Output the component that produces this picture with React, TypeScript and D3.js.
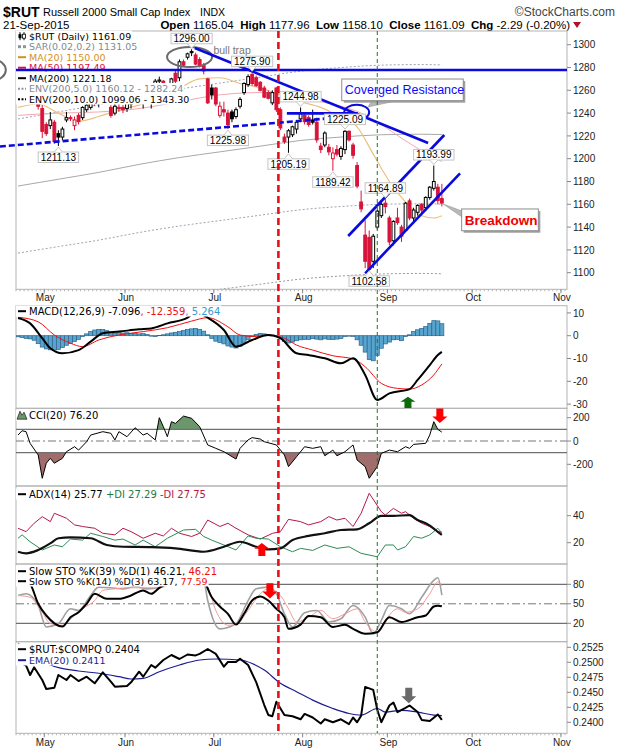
'use client'
import React, { useEffect, useRef } from 'react';
import * as d3 from 'd3';

// trading days shown (Apr 22 - Sep 21, 2015)
const dates = [
  'Apr 22', 'Apr 23', 'Apr 24', 'Apr 27', 'Apr 28', 'Apr 29', 'Apr 30',
  'May 1', 'May 4', 'May 5', 'May 6', 'May 7', 'May 8', 'May 11', 'May 12', 'May 13', 'May 14', 'May 15',
  'May 18', 'May 19', 'May 20', 'May 21', 'May 22', 'May 26', 'May 27', 'May 28', 'May 29',
  'Jun 1', 'Jun 2', 'Jun 3', 'Jun 4', 'Jun 5', 'Jun 8', 'Jun 9', 'Jun 10', 'Jun 11', 'Jun 12',
  'Jun 15', 'Jun 16', 'Jun 17', 'Jun 18', 'Jun 19', 'Jun 22', 'Jun 23', 'Jun 24', 'Jun 25', 'Jun 26', 'Jun 29', 'Jun 30',
  'Jul 1', 'Jul 2', 'Jul 6', 'Jul 7', 'Jul 8', 'Jul 9', 'Jul 10', 'Jul 13', 'Jul 14', 'Jul 15', 'Jul 16', 'Jul 17',
  'Jul 20', 'Jul 21', 'Jul 22', 'Jul 23', 'Jul 24', 'Jul 27', 'Jul 28', 'Jul 29', 'Jul 30', 'Jul 31',
  'Aug 3', 'Aug 4', 'Aug 5', 'Aug 6', 'Aug 7', 'Aug 10', 'Aug 11', 'Aug 12', 'Aug 13', 'Aug 14',
  'Aug 17', 'Aug 18', 'Aug 19', 'Aug 20', 'Aug 21', 'Aug 24', 'Aug 25', 'Aug 26', 'Aug 27', 'Aug 28', 'Aug 31',
  'Sep 1', 'Sep 2', 'Sep 3', 'Sep 4', 'Sep 8', 'Sep 9', 'Sep 10', 'Sep 11', 'Sep 14', 'Sep 15', 'Sep 16', 'Sep 17', 'Sep 18', 'Sep 21',
];

const open = [
  1262, 1265, 1273, 1268, 1255, 1260, 1244, 1230, 1229, 1232, 1222, 1219, 1234, 1236, 1229, 1238, 1236, 1243, 1245, 1251,
  1249, 1250, 1254, 1245, 1240, 1245, 1245, 1244, 1248, 1254, 1260, 1250, 1259, 1255, 1262, 1268, 1268, 1264, 1258, 1275,
  1271, 1285, 1289, 1294, 1291, 1287, 1282, 1270, 1262, 1262, 1238, 1243, 1240, 1241, 1237, 1246, 1258, 1265, 1274, 1271,
  1267, 1262, 1258, 1249, 1262, 1243, 1219, 1219, 1221, 1226, 1235, 1238, 1236, 1234, 1232, 1211, 1212, 1210, 1200, 1208,
  1202, 1208, 1224, 1212, 1194, 1162, 1133, 1131, 1110, 1140, 1150, 1161, 1148, 1128, 1148, 1140, 1137, 1163, 1148, 1153,
  1160, 1157, 1166, 1174, 1175, 1165.04,
];
const high = [
  1268, 1276, 1275, 1270, 1266, 1262, 1247, 1232, 1241, 1234, 1225, 1228, 1241, 1238, 1237, 1240, 1246, 1248, 1251, 1254,
  1253, 1256, 1256, 1247, 1248, 1248, 1247, 1252, 1254, 1264, 1261, 1262, 1261, 1259, 1270, 1272, 1269, 1266, 1271, 1277,
  1287, 1287, 1293, 1296.0, 1293, 1289, 1284, 1271, 1265, 1263, 1250, 1250, 1243, 1243, 1245, 1254, 1267, 1274, 1275.9, 1273,
  1268, 1264, 1260, 1260, 1263, 1245, 1222, 1226, 1229, 1234, 1244.98, 1241, 1238, 1243, 1236, 1214, 1224, 1213, 1210, 1212,
  1211, 1225.09, 1225, 1214, 1197, 1172, 1146, 1137, 1134, 1155, 1162, 1164.89, 1150, 1146, 1157, 1142, 1162, 1165, 1157, 1160,
  1161, 1167, 1176, 1193.99, 1178, 1177.96,
];
const low = [
  1258, 1263, 1264, 1252, 1250, 1243, 1218, 1220, 1226, 1213, 1211.13, 1216, 1232, 1233, 1225, 1230, 1234, 1241, 1243, 1246,
  1245, 1248, 1250, 1236, 1238, 1241, 1240, 1241, 1244, 1252, 1248, 1244, 1254, 1244, 1260, 1265, 1263, 1256, 1256, 1266,
  1268, 1281, 1287, 1290, 1282, 1280, 1274, 1248, 1252, 1246, 1236, 1237, 1225.98, 1232, 1235, 1244, 1256, 1263, 1264, 1263,
  1259, 1253, 1252, 1247, 1241, 1225, 1213, 1205.19, 1219, 1222, 1232, 1230, 1228, 1230, 1214, 1205, 1210, 1203, 1189.42, 1202,
  1199, 1204, 1215, 1200, 1174, 1153, 1104, 1102.58, 1104, 1138, 1148, 1152, 1124, 1124, 1142, 1127, 1136, 1146, 1145, 1150,
  1152, 1154, 1164, 1172, 1160, 1158.1,
];
const close = [
  1266, 1273, 1268, 1255, 1263, 1246, 1224, 1222, 1234, 1215, 1219, 1226, 1236, 1235.5, 1234, 1232.5, 1245, 1247, 1250, 1249,
  1251, 1255, 1252, 1238, 1246, 1244, 1243, 1249, 1252, 1262, 1251, 1259, 1255, 1257, 1268, 1269, 1266, 1258, 1270, 1268,
  1285, 1282, 1292, 1293, 1283, 1281, 1277, 1249, 1256, 1248, 1246, 1241, 1230, 1235, 1243, 1252, 1266, 1272, 1266, 1264,
  1260, 1254, 1253, 1258, 1243, 1227, 1215, 1224.5, 1228, 1232, 1240, 1232.5, 1230, 1232, 1216.5, 1208, 1222.5, 1206, 1205, 1204,
  1209, 1224, 1216.5, 1203, 1176, 1156, 1110, 1103, 1132, 1154, 1160, 1158, 1127, 1145, 1144, 1132, 1161, 1148, 1155, 1159,
  1155, 1166, 1175, 1180, 1163.38, 1161.09,
];

// moving averages [day index, value]
const ma20 = [[0, 1245], [5, 1248], [10, 1240], [15, 1233], [20, 1237], [25, 1243], [30, 1247], [35, 1254], [40, 1262], [45, 1270],
  [50, 1271], [55, 1266], [60, 1262], [65, 1256], [70, 1250], [75, 1245], [80, 1236], [84, 1228], [88, 1204], [92, 1180],
  [96, 1162], [100, 1150], [103, 1148], [105, 1150]];
const ma50 = [[0, 1238], [10, 1240], [20, 1241], [30, 1244], [40, 1250], [50, 1256], [60, 1258], [65, 1257], [70, 1254],
  [75, 1250], [80, 1246], [85, 1240], [90, 1230], [95, 1218], [100, 1207], [105, 1197.49]];
const ma200 = [[0, 1176], [10, 1182], [20, 1188], [30, 1195], [40, 1201], [50, 1206], [60, 1211], [70, 1216], [80, 1219],
  [90, 1221], [100, 1221.5], [105, 1221.18]];

const macdLine = [[0, 7.8], [3, 5.4], [6, -1.1], [8, -5.5], [11, -7.7], [15, -6.3], [18, -2.6], [21, 1.1], [25, 1.8], [30, 2.8],
  [33, 3.2], [37, 5.4], [42, 7.9], [44, 10.5], [47, 7.9], [51, 2.5], [54, -4.8], [58, -1.9], [62, 0.3], [65, -1.1], [69, -7.7],
  [72, -8.5], [76, -9.9], [80, -12.1], [83, -9.9], [86, -17.2], [89, -28.2], [92, -25.3], [97, -23.4], [99, -19.4], [102, -12.9],
  [104, -8.5], [105, -7.096]];
const macdSignal = [[0, 8.1], [5, 6.1], [9, 0.3], [13, -3.3], [16, -4.8], [20, -1.9], [25, 0.3], [31, 1.8], [37, 3.5], [43, 6.4],
  [47, 7.9], [52, 3.9], [55, 0.3], [59, -0.4], [62, 0.3], [66, -1.1], [69, -4.1], [73, -6.3], [78, -8.8], [83, -10.2],
  [86, -13.6], [90, -20.9], [94, -23.1], [97, -23.4], [100, -21.6], [103, -17.2], [105, -12.359]];
const macdHist = [
  -0.5, -0.8, -1.2, -1.4, -2.0, -3.5, -5.0, -5.8, -6.2, -6.3,
  -6.0, -5.2, -4.2, -3.4, -2.6, -1.6, -0.4, 0.8, 1.8, 2.5,
  2.8, 2.7, 2.2, 1.4, 1.1, 1.4, 1.2, 1.3, 1.0, 0.9,
  0.8, 0.9, 0.5, -0.2, -0.4, 0.1, 0.4, 0.8, 1.2, 1.5,
  1.8, 2.3, 2.7, 3.0, 3.2, 2.8, 2.0, 0.4, -1.2, -2.4,
  -3.0, -3.6, -4.5, -5.0, -5.4, -4.6, -3.2, -1.6, -0.4, 0.6,
  1.0, 0.8, 0.4, 0.2, -0.3, -1.0, -2.5, -3.2, -2.8, -2.2,
  -1.8, -1.6, -1.6, -1.3, -1.5, -1.8, -1.4, -1.6, -1.7, -1.5,
  -1.2, -0.4, -0.2, -0.3, -1.8, -4.2, -7.2, -10.5, -11.0, -8.6,
  -5.5, -3.6, -2.8, -1.8, -1.6, -2.2, -0.4, 0.4, 1.8, 2.6,
  3.2, 4.0, 5.4, 6.6, 6.5, 5.264,
];

const cci = [[0, 51], [1, 88], [2, 80], [3, -20], [5, -120], [6, -320], [7, -191], [8, -149], [9, -191], [11, -149], [12, -92],
  [14, -49], [15, -78], [17, -6], [18, 51], [21, 80], [23, 66], [24, 9], [25, 80], [27, 37], [29, 114], [31, 51], [32, 66],
  [34, 9], [35, 200], [36, 123], [37, 37], [38, 166], [39, 151], [41, 214], [43, 195], [45, 123], [47, -34], [49, -63],
  [51, -92], [54, -155], [55, -63], [57, 9], [58, 29], [60, 17], [61, -6], [64, -34], [66, -120], [67, -220], [69, -135],
  [71, -49], [73, -63], [75, -49], [76, -127], [78, -78], [79, -127], [81, -92], [83, -34], [84, -163], [86, -220],
  [87, -320], [89, -220], [90, -106], [92, -78], [94, -92], [96, -49], [97, -63], [98, -29], [101, -20], [102, 51],
  [103, 166], [104, 100], [105, 76.2]];

const adx = [[0, 13.3], [2, 12.1], [5, 14.6], [8, 19.5], [10, 23.3], [13, 24], [18, 23.3], [22, 18.3], [26, 17], [33, 16.7],
  [39, 15.8], [46, 13.3], [51, 17], [55, 20.7], [59, 17], [62, 15.1], [65, 15.8], [68, 22], [72, 25], [76, 27], [80, 29.4],
  [84, 29.9], [87, 34.4], [90, 39.8], [93, 39.8], [97, 40.5], [99, 36.8], [101, 34.4], [103, 30.5], [104, 28], [105, 25.77]];
const plusDI = [[0, 23.3], [1, 25.8], [3, 20.7], [6, 14.6], [9, 18.3], [11, 17], [13, 22.7], [16, 21.9], [18, 27], [21, 24.6],
  [24, 21.9], [26, 22.7], [29, 18.3], [31, 21.9], [34, 17], [37, 23.3], [41, 29.4], [44, 29.9], [46, 24.6], [48, 21.9],
  [51, 18.3], [54, 14.6], [57, 25], [59, 23.3], [62, 22.7], [65, 17], [68, 13.3], [70, 15.8], [73, 14.3], [76, 18.3],
  [79, 15.8], [82, 17], [85, 12.1], [89, 9.6], [91, 18.3], [93, 18.3], [94, 14.6], [96, 17], [98, 24.6], [100, 23.3],
  [102, 25.8], [104, 30.7], [105, 27.29]];
const minusDI = [[0, 30.7], [2, 28.2], [4, 34.4], [6, 39.3], [8, 35.6], [9, 41.8], [12, 38.1], [14, 33.2], [16, 32], [19, 30.7],
  [21, 27], [24, 25.8], [26, 30.7], [28, 28.2], [31, 23.3], [34, 27], [36, 25], [38, 30.7], [40, 27], [43, 24.6], [45, 27],
  [47, 36.8], [50, 32], [52, 34.4], [54, 30.7], [57, 25.8], [60, 22.7], [63, 26.9], [65, 28.2], [67, 37.3], [70, 35.6],
  [72, 33.2], [75, 35.6], [77, 39.3], [79, 36.8], [81, 38.1], [83, 32], [85, 41.8], [87, 56.6], [90, 43], [91, 40.5],
  [93, 45.4], [95, 41.8], [96, 43], [98, 38.1], [100, 34.4], [102, 32], [104, 28.2], [105, 27.75]];

const stoK39 = [[0, 92], [3, 80.8], [5, 50], [7, 32], [11, 15], [13, 29.4], [15, 37], [17, 50], [19, 65.4], [22, 57.7], [25, 57.7],
  [28, 62.8], [31, 70.5], [33, 65.4], [35, 74.6], [38, 84], [41, 92], [44, 94], [46, 86], [48, 60], [50, 45.8], [52, 34.6],
  [54, 18], [56, 34.6], [58, 55], [60, 61.2], [62, 55], [64, 42.3], [66, 29.4], [67, 11.5], [70, 18], [72, 31.2], [75, 29.4],
  [78, 14.4], [81, 17.6], [83, 11.5], [86, 3.8], [89, 6.2], [92, 29.4], [95, 22], [99, 29.4], [101, 32], [103, 45.8],
  [104, 47], [105, 46.21]];
const stoK14 = [[0, 62.8], [2, 65.4], [5, 47.4], [7, 14.4], [10, 19.6], [13, 42.3], [15, 39.8], [18, 62.8], [20, 75.6], [23, 74.6],
  [26, 73], [29, 76.6], [32, 73], [35, 75.6], [38, 88], [41, 95], [44, 92], [46, 86], [47, 55], [50, 11.5], [54, 19.6],
  [57, 55], [59, 73], [62, 75.6], [64, 65.4], [66, 34.6], [68, 14.4], [71, 36.3], [74, 39.8], [77, 22], [80, 27], [83, 47.4],
  [86, 29.4], [88, 3.8], [90, 24.6], [92, 47.4], [95, 42.3], [97, 34.6], [100, 60], [103, 86], [104, 90], [105, 63.17]];
const stoD3 = [[0, 62.8], [3, 60], [6, 37], [8, 19.6], [11, 17], [14, 32], [16, 42.3], [19, 55], [21, 70.5], [24, 73], [27, 74.6],
  [30, 74.6], [33, 74.6], [35, 74.6], [40, 88], [44, 92], [47, 75.6], [49, 39.8], [52, 17], [54, 18], [57, 39.8], [60, 65.4],
  [62, 73], [65, 62.8], [67, 42.3], [69, 22], [72, 29.4], [75, 39.8], [78, 27], [81, 34.6], [84, 42.3], [86, 22], [89, 6.2],
  [91, 24.6], [94, 42.3], [96, 37], [99, 42.3], [102, 65.4], [104, 83.6], [105, 77.59]];

const ratio = [[0, 0.2502], [2, 0.24943], [3, 0.24788], [4, 0.24917], [6, 0.24705], [7, 0.24555], [9, 0.24577], [10, 0.24788],
  [12, 0.24705], [13, 0.24788], [15, 0.24688], [17, 0.2476], [19, 0.2465], [21, 0.24833], [23, 0.24677], [24, 0.24593],
  [27, 0.24605], [28, 0.24667], [30, 0.24843], [31, 0.2476], [33, 0.24955], [34, 0.2491], [36, 0.25038], [38, 0.25122],
  [40, 0.25055], [42, 0.2513], [44, 0.25115], [45, 0.2514], [47, 0.25222], [49, 0.2514], [51, 0.24927], [52, 0.25005],
  [54, 0.25005], [55, 0.2506], [57, 0.24955], [59, 0.2467], [61, 0.24288], [62, 0.24122], [63, 0.241], [64, 0.24343],
  [66, 0.24122], [68, 0.241], [70, 0.2405], [71, 0.2414], [73, 0.2408], [75, 0.2398], [76, 0.2405], [78, 0.24], [80, 0.2405],
  [82, 0.2397], [83, 0.2408], [84, 0.24], [85, 0.2411], [86, 0.2459], [88, 0.2454], [89, 0.2421], [90, 0.24], [92, 0.2428],
  [93, 0.2433], [94, 0.2417], [96, 0.2424], [97, 0.2428], [99, 0.2417], [100, 0.2404], [102, 0.2402], [104, 0.2413],
  [105, 0.2404]];
const ratioEma = [[0, 0.2532], [8, 0.24955], [15, 0.24855], [20, 0.24817], [25, 0.2476], [28, 0.24722], [31, 0.24733],
  [35, 0.24843], [40, 0.24955], [45, 0.25038], [49, 0.25055], [55, 0.25038], [58, 0.2498], [61, 0.2487], [65, 0.2465],
  [69, 0.2451], [73, 0.2437], [78, 0.2423], [82, 0.24147], [85, 0.2412], [89, 0.2423], [91, 0.2417], [95, 0.242],
  [99, 0.2417], [103, 0.2412], [105, 0.2411]];

// axis ticks
const monthLabels = ['May', 'Jun', 'Jul', 'Aug', 'Sep', 'Oct', 'Nov'];
const monthStart = [7, 27, 49, 71, 92, 113, 135];
const priceTicks = [1100, 1120, 1140, 1160, 1180, 1200, 1220, 1240, 1260, 1280, 1300];
const macdTicks = [10, 0, -10, -20, -30];
const cciTicks = [200, 0, -200];
const adxTicks = [40, 20];
const stoTicks = [80, 50, 20];
const ratioTicks = [0.24, 0.2425, 0.245, 0.2475, 0.25, 0.2525];

// marked highs and lows (day index)
const highMarks = [43, 58, 70, 81, 91, 103];
const lowMarks = [10, 52, 67, 78, 87];

// hand drawn annotations [day index, price]
const trendLines = [
  { a: [-0.5, 1277.8], b: [136, 1277.8], dash: false },
  { a: [43.8, 1297.1], b: [101.6, 1213.8], dash: false },
  { a: [66.6, 1239.8], b: [84.2, 1239.8], dash: false },
  { a: [-4.5, 1210.7], b: [81, 1236.6], dash: true },
  { a: [81.8, 1132.2], b: [105.6, 1220.8], dash: false },
  { a: [86, 1099.5], b: [109.5, 1187.2], dash: false },
];

const X0 = 16;
const X1 = 567;
const SANS = "'Liberation Sans', Arial, sans-serif";
const VERD = "'DejaVu Sans', Verdana, sans-serif";
const RED = '#d8143a';

const App = () => {
  const ref = useRef<SVGSVGElement>(null);

  useEffect(() => {
    if (ref.current) drawChart(ref.current);
  }, []);

  const drawChart = (node: SVGSVGElement) => {
    const svg = d3.select(node);
    svg.selectAll('*').remove();
    const defs = svg.append('defs');

    const x = d3.scaleLinear().domain([-0.5, 136]).range([X0, X1]);
    const panels: Record<string, number[]> = {
      main: [31, 289.3], macd: [305.7, 408.3], cci: [408.3, 486], adx: [486, 564], sto: [564, 641.7], ratio: [641.7, 733.3],
    };
    Object.entries(panels).forEach(([k, [t, b]]) => {
      defs.append('clipPath').attr('id', 'clip-' + k)
        .append('rect').attr('x', X0).attr('y', t).attr('width', X1 - X0).attr('height', b - t);
    });

    const yMain = d3.scaleLinear().domain([1100, 1280]).range([272.7, 67.5]);
    const yMacd = d3.scaleLinear().domain([-30, 0]).range([404.1, 335.7]);
    const yCci = d3.scaleLinear().domain([-200, 200]).range([464.3, 417.7]);
    const yAdx = d3.scaleLinear().domain([20, 40]).range([542.7, 515.7]);
    const ySto = d3.scaleLinear().domain([20, 80]).range([623.3, 584.3]);
    const yRat = d3.scaleLinear().domain([0.24, 0.2525]).range([722.3, 647.3]);

    svg.append('rect').attr('width', 620).attr('height', 750).attr('fill', '#fff');

    // ---- header
    svg.append('text').attr('x', 3).attr('y', 17).attr('font-family', SANS).attr('font-size', 14)
      .attr('font-weight', 'bold').text('$RUT');
    svg.append('text').attr('x', 43).attr('y', 16).attr('font-family', SANS).attr('font-size', 11)
      .text('Russell 2000 Small Cap Index');
    svg.append('text').attr('x', 200).attr('y', 16).attr('font-family', SANS).attr('font-size', 10.5).text('INDX');
    svg.append('text').attr('x', 615).attr('y', 16).attr('text-anchor', 'end').attr('font-family', SANS)
      .attr('font-size', 12).attr('fill', '#444').text('\u00A9StockCharts.com');
    svg.append('text').attr('x', 3).attr('y', 29).attr('font-family', SANS).attr('font-size', 11.5).text('21-Sep-2015');
    const hdr = svg.append('text').attr('x', 570).attr('y', 29).attr('text-anchor', 'end')
      .attr('font-family', SANS).attr('font-size', 11.5).style('white-space', 'pre');
    [['Open ', true], ['1165.04  ', false], ['High ', true], ['1177.96  ', false], ['Low ', true], ['1158.10  ', false],
      ['Close ', true], ['1161.09  ', false], ['Chg ', true], ['-2.29 (-0.20%)', false]].forEach(([s, b]) => {
      hdr.append('tspan').attr('font-weight', b ? 'bold' : 'normal').text(s as string);
    });
    svg.append('path').attr('d', 'M573,22 L581,22 L577,28 Z').attr('fill', '#b0102a');

    // ---- panel frames
    Object.values(panels).forEach(([t, b]) => {
      svg.append('rect').attr('x', X0).attr('y', t).attr('width', X1 - X0).attr('height', b - t)
        .attr('fill', 'none').attr('stroke', '#b4b4b4');
    });

    // x axis ticks & month labels
    const xAxis = (yb: number, ly: number) => {
      d3.range(0, 137).forEach(i => {
        svg.append('line').attr('x1', x(i) - 2).attr('x2', x(i) - 2).attr('y1', yb).attr('y2', yb + 2)
          .attr('stroke', '#b4b4b4');
      });
      monthStart.forEach((m, k) => {
        svg.append('line').attr('x1', x(m) - 2).attr('x2', x(m) - 2).attr('y1', yb).attr('y2', yb + 4)
          .attr('stroke', '#888');
        svg.append('text').attr('x', x(m) - 1).attr('y', ly).attr('text-anchor', 'middle')
          .attr('font-family', SANS).attr('font-size', 10).attr('fill', '#222').text(monthLabels[k]);
      });
    };
    xAxis(289.3, 301);
    xAxis(733.3, 745.5);

    // right axes
    const yAxis = (scale: d3.ScaleLinear<number, number>, ticks: number[], fmt: (v: number) => string) => {
      ticks.forEach(v => {
        const yy = scale(v);
        svg.append('line').attr('x1', X1).attr('x2', X1 + 4).attr('y1', yy).attr('y2', yy).attr('stroke', '#888');
        svg.append('text').attr('x', X1 + 6).attr('y', yy + 3.6).attr('font-family', SANS).attr('font-size', 10)
          .attr('fill', '#222').text(fmt(v));
      });
    };
    yAxis(yMain, priceTicks, v => String(v));
    yAxis(yMacd, macdTicks, v => String(v));
    yAxis(yCci, cciTicks, v => String(v));
    yAxis(yAdx, adxTicks, v => String(v));
    yAxis(ySto, stoTicks, v => String(v));
    yAxis(yRat, ratioTicks, v => v.toFixed(4));

    const lineOf = (ys: d3.ScaleLinear<number, number>, curve = d3.curveLinear) =>
      d3.line<number[]>().x(d => x(d[0])).y(d => ys(d[1])).curve(curve);
    const drawSeries = (g: any, data: number[][], ys: any, color: string, w: number, dash?: string, curve?: any) =>
      g.append('path').datum(data).attr('d', lineOf(ys, curve)).attr('fill', 'none').attr('stroke', color)
        .attr('stroke-width', w).attr('stroke-dasharray', dash || null).attr('stroke-linejoin', 'round');

    // ---- main price panel
    const gm = svg.append('g').attr('clip-path', 'url(#clip-main)');
    const env = (f: number) => ma200.map(d => [d[0], d[1] * f]);
    drawSeries(gm, ma200, yMain, '#a8a8a8', 1, undefined, d3.curveMonotoneX);
    drawSeries(gm, env(1.05), yMain, '#9aa4b0', 1, '2,2', d3.curveMonotoneX);
    drawSeries(gm, env(0.95), yMain, '#9aa4b0', 1, '2,2', d3.curveMonotoneX);
    drawSeries(gm, env(1.1), yMain, '#999', 1, '2,2', d3.curveMonotoneX);
    drawSeries(gm, env(0.9), yMain, '#999', 1, '2,2', d3.curveMonotoneX);
    drawSeries(gm, ma50, yMain, '#f2a8ae', 1, undefined, d3.curveMonotoneX);
    drawSeries(gm, ma20, yMain, '#edc080', 1.2, undefined, d3.curveMonotoneX);

    dates.forEach((_, i) => {
      const o = open[i], c = close[i];
      const up = i === 0 ? c >= o : c >= close[i - 1];
      const col = up ? '#000' : RED;
      const hollow = c >= o;
      const cx = x(i);
      gm.append('line').attr('x1', cx).attr('x2', cx).attr('y1', yMain(high[i])).attr('y2', yMain(low[i]))
        .attr('stroke', col).attr('stroke-width', 1);
      const top = yMain(Math.max(o, c));
      const bot = yMain(Math.min(o, c));
      gm.append('rect').attr('x', cx - 1.4).attr('y', top).attr('width', 2.8).attr('height', Math.max(bot - top, 0.8))
        .attr('fill', hollow ? '#fff' : col).attr('stroke', col).attr('stroke-width', 1);
    });

    // ---- legends with white backing
    const legend = (lx: number, ly: number, parts: string[][], icon?: (g: any, cx: number, cy: number) => void, fs = 9.5) => {
      const g = svg.append('g');
      const bg = g.append('rect').attr('fill', '#fff');
      const t = g.append('text').attr('x', lx + 10).attr('y', ly).attr('font-family', VERD).attr('font-size', fs)
        .style('white-space', 'pre');
      parts.forEach(([s, c]) => t.append('tspan').attr('fill', c).text(s));
      const bb = (t.node() as SVGTextElement).getBBox();
      bg.attr('x', lx - 3).attr('y', bb.y).attr('width', bb.x + bb.width - lx + 4).attr('height', bb.height);
      if (icon) icon(g, lx + 3, ly - 3.3);
    };
    const lineIcon = (color: string, dash?: string, w = 2) => (g: any, cx: number, cy: number) =>
      g.append('line').attr('x1', cx - 4).attr('x2', cx + 4).attr('y1', cy).attr('y2', cy).attr('stroke', color)
        .attr('stroke-width', w).attr('stroke-dasharray', dash || null);

    legend(19, 39.5, [['$RUT (Daily) 1161.09', '#000']], (g, cx, cy) => {
      g.append('line').attr('x1', cx - 2).attr('x2', cx - 2).attr('y1', cy - 4).attr('y2', cy + 4).attr('stroke', '#000');
      g.append('rect').attr('x', cx - 3.5).attr('y', cy - 2).attr('width', 3).attr('height', 4).attr('fill', '#000');
      g.append('line').attr('x1', cx + 2).attr('x2', cx + 2).attr('y1', cy - 4).attr('y2', cy + 4).attr('stroke', '#000');
      g.append('rect').attr('x', cx + 0.5).attr('y', cy - 2).attr('width', 3).attr('height', 4).attr('fill', '#fff')
        .attr('stroke', '#000').attr('stroke-width', 0.8);
    });
    legend(19, 50, [['SAR(0.02,0.2) 1131.05', '#7f8a96']], (g, cx, cy) => {
      g.append('rect').attr('x', cx - 4).attr('y', cy - 1.5).attr('width', 3).attr('height', 3).attr('fill', '#8a96a2');
      g.append('rect').attr('x', cx + 1).attr('y', cy - 1.5).attr('width', 3).attr('height', 3).attr('fill', '#8a96a2');
    });
    legend(19, 60.5, [['MA(20) 1150.00', '#d4921c']], lineIcon('#d4921c'));
    legend(19, 71, [['MA(50) 1197.49', '#dc143c']], lineIcon('#dc143c'));
    legend(19, 81.5, [['MA(200) 1221.18', '#000']], lineIcon('#000'));
    legend(19, 92, [['ENV(200,5.0) 1160.12 - 1282.24', '#7f8a96']], lineIcon('#8a96a2', '2,1.5'));
    legend(19, 102.5, [['ENV(200,10.0) 1099.06 - 1343.30', '#000']], lineIcon('#000', '2,1.5'));

    // ---- high / low tags
    const tag = (i: number, v: number, isHigh: boolean) => {
      const cx = x(i);
      const py = yMain(v);
      const g = svg.append('g');
      const t = g.append('text').attr('x', cx).attr('text-anchor', 'middle').attr('font-family', SANS)
        .attr('font-size', 10).text(v.toFixed(2));
      const w = (t.node() as SVGTextElement).getComputedTextLength() + 5;
      const bTop = isHigh ? py - 16 : py + 6;
      const bBot = bTop + 10.5;
      t.attr('y', bTop + 8.8);
      const tipY = isHigh ? py - 1 : py + 1;
      const baseY = isHigh ? bBot : bTop;
      g.insert('rect', 'text').attr('x', cx - w / 2).attr('y', bTop).attr('width', w).attr('height', 10.5)
        .attr('fill', '#fff').attr('stroke', '#c4c4c4');
      g.insert('path', 'text').attr('d', `M${cx - 4},${baseY} L${cx},${tipY} L${cx + 4},${baseY}`)
        .attr('fill', '#fff').attr('stroke', '#c4c4c4');
    };

    // ---- annotations
    const ga = svg.append('g');
    ga.append('ellipse').attr('cx', x(42.5)).attr('cy', yMain(1289.2)).attr('rx', 22.5).attr('ry', 10)
      .attr('fill', 'none').attr('stroke', '#6a6a6a').attr('stroke-width', 2);
    ga.append('ellipse').attr('cx', x(-6)).attr('cy', yMain(1277.8)).attr('rx', 12).attr('ry', 10)
      .attr('fill', 'none').attr('stroke', '#6a6a6a').attr('stroke-width', 2);
    ga.append('text').attr('x', x(48.4)).attr('y', yMain(1291.6)).attr('font-family', SANS).attr('font-size', 10.5)
      .attr('fill', '#777').text('bull trap');
    highMarks.forEach(i => tag(i, high[i], true));
    lowMarks.forEach(i => tag(i, low[i], false));
    trendLines.forEach(l => {
      ga.append('line').attr('x1', x(l.a[0])).attr('y1', yMain(l.a[1])).attr('x2', x(l.b[0])).attr('y2', yMain(l.b[1]))
        .attr('stroke', '#0a0adf').attr('stroke-width', 2.6).attr('stroke-dasharray', l.dash ? '6,3' : null);
    });
    ga.append('ellipse').attr('cx', x(83.9)).attr('cy', yMain(1240.7)).attr('rx', 12.5).attr('ry', 7.5)
      .attr('fill', 'none').attr('stroke', '#0a0adf').attr('stroke-width', 2);

    const callout = (l: number, tp: number, r: number, bt: number, tip: number[], base: number[][],
      text: string, color: string, bold: boolean, fs: number) => {
      const bx = x(l), by = yMain(tp), bw = x(r) - x(l), bh = yMain(bt) - yMain(tp);
      ga.append('path').attr('d', `M${base[0][0]},${base[0][1]} L${x(tip[0])},${yMain(tip[1])} L${base[1][0]},${base[1][1]} Z`)
        .attr('fill', '#b8b8b8').attr('stroke', '#999').attr('stroke-width', 0.6);
      ga.append('rect').attr('x', bx + 2).attr('y', by + 2).attr('width', bw).attr('height', bh).attr('fill', '#a0a0a0');
      ga.append('rect').attr('x', bx).attr('y', by).attr('width', bw).attr('height', bh).attr('fill', '#fff')
        .attr('stroke', '#8c8c8c');
      ga.append('text').attr('x', bx + 3).attr('y', by + bh / 2 + fs * 0.36).attr('font-family', SANS).attr('font-size', fs)
        .attr('font-weight', bold ? 'bold' : 'normal').attr('fill', color).text(text);
    };
    callout(80.2, 1269.9, 110.3, 1250.9, [86.7, 1245.4], [[372, 100.5], [398, 100.5]],
      'Coverged Resistance', '#0a0aff', false, 12.5);
    callout(109.9, 1155.9, 128.9, 1136.8, [105.3, 1160.3], [[462, 211], [462, 217]],
      'Breakdown', '#f00000', true, 13.5);

    // ---- MACD
    const gmac = svg.append('g').attr('clip-path', 'url(#clip-macd)');
    macdHist.forEach((v, i) => {
      const y0 = yMacd(0), y1 = yMacd(v);
      gmac.append('rect').attr('x', x(i) - 2).attr('y', Math.min(y0, y1)).attr('width', 4)
        .attr('height', Math.abs(y1 - y0)).attr('fill', '#58a4cf').attr('stroke', '#2c6488').attr('stroke-width', 0.7);
    });
    drawSeries(gmac, macdSignal, yMacd, '#f01010', 1, undefined, d3.curveMonotoneX);
    drawSeries(gmac, macdLine, yMacd, '#000', 2, undefined, d3.curveMonotoneX);
    legend(19, 314.5, [['MACD(12,26,9) -7.096', '#000'], [', -12.359', '#f01010'], [', 5.264', '#3a9ad0']], lineIcon('#000'), 10);

    // ---- CCI
    const gc = svg.append('g').attr('clip-path', 'url(#clip-cci)');
    defs.append('clipPath').attr('id', 'cci-up').append('rect').attr('x', X0).attr('y', 408.3)
      .attr('width', X1 - X0).attr('height', yCci(100) - 408.3);
    defs.append('clipPath').attr('id', 'cci-dn').append('rect').attr('x', X0).attr('y', yCci(-100))
      .attr('width', X1 - X0).attr('height', 486 - yCci(-100));
    const areaTo = (base: number) => d3.area<number[]>().x(d => x(d[0])).y0(yCci(base)).y1(d => yCci(d[1]));
    gc.append('path').datum(cci).attr('d', areaTo(100)).attr('fill', '#6b976b').attr('clip-path', 'url(#cci-up)');
    gc.append('path').datum(cci).attr('d', areaTo(-100)).attr('fill', '#a06c6c').attr('clip-path', 'url(#cci-dn)');
    [100, -100].forEach(v => gc.append('line').attr('x1', X0).attr('x2', X1).attr('y1', yCci(v)).attr('y2', yCci(v))
      .attr('stroke', '#707070').attr('stroke-width', 1.2));
    gc.append('line').attr('x1', X0).attr('x2', X1).attr('y1', yCci(0)).attr('y2', yCci(0))
      .attr('stroke', '#777').attr('stroke-dasharray', '8,3,2,3');
    drawSeries(gc, cci, yCci, '#000', 1);
    legend(19, 418.5, [['CCI(20) 76.20', '#000']], (g, cx, cy) => {
      g.append('path').attr('d', `M${cx - 5},${cy + 4} L${cx - 2},${cy - 4} L${cx},${cy} L${cx + 2},${cy - 3} L${cx + 5},${cy + 4} Z`)
        .attr('fill', '#6b976b').attr('stroke', '#000').attr('stroke-width', 0.6);
    }, 10);

    // ---- ADX
    const gd = svg.append('g').attr('clip-path', 'url(#clip-adx)');
    drawSeries(gd, minusDI, yAdx, '#b5174a', 1);
    drawSeries(gd, plusDI, yAdx, '#2d8a55', 1);
    drawSeries(gd, adx, yAdx, '#111', 2.2, undefined, d3.curveMonotoneX);
    legend(19, 497.5, [['ADX(14) 25.77 ', '#000'], ['+DI 27.29 ', '#1e7a3c'], ['-DI 27.75', '#b5174a']], lineIcon('#000'), 10);

    // ---- Slow STO
    const gs = svg.append('g').attr('clip-path', 'url(#clip-sto)');
    [80, 20].forEach(v => gs.append('line').attr('x1', X0).attr('x2', X1).attr('y1', ySto(v)).attr('y2', ySto(v))
      .attr('stroke', '#707070').attr('stroke-width', 1.2));
    gs.append('line').attr('x1', X0).attr('x2', X1).attr('y1', ySto(50)).attr('y2', ySto(50))
      .attr('stroke', '#777').attr('stroke-dasharray', '8,3,2,3');
    drawSeries(gs, stoK14, ySto, '#a0a0a0', 1.6, undefined, d3.curveMonotoneX);
    drawSeries(gs, stoD3, ySto, '#f29a9a', 1, undefined, d3.curveMonotoneX);
    drawSeries(gs, stoK39, ySto, '#000', 2, undefined, d3.curveMonotoneX);
    legend(19, 574.5, [['Slow STO %K(39) %D(1) 46.21, ', '#000'], ['46.21', '#f01010']], lineIcon('#000'), 10);
    legend(19, 584.5, [['Slow STO %K(14) %D(3) 63.17, ', '#000'], ['77.59', '#f01010']], lineIcon('#000'), 9.5);

    // ---- $RUT:$COMPQ
    const gr = svg.append('g').attr('clip-path', 'url(#clip-ratio)');
    drawSeries(gr, ratioEma, yRat, '#1c1c90', 1.2, undefined, d3.curveMonotoneX);
    drawSeries(gr, ratio, yRat, '#000', 2);
    legend(19, 652.5, [['$RUT:$COMPQ 0.2404', '#000']], lineIcon('#000'), 10);
    legend(19, 663.5, [['EMA(20) 0.2411', '#1c1c90']], lineIcon('#1c1c90'), 9.5);

    // ---- arrows [day index, from value, to value]
    const arrow = (i: number, ys: any, vTail: number, vTip: number, color: string) => {
      const cx = x(i), yt = ys(vTail), yp = ys(vTip);
      const dir = yp < yt ? -1 : 1;
      const len = Math.abs(yp - yt);
      const hh = len * 0.45;
      const yh = yp - dir * hh;
      svg.append('path').attr('d',
        `M${cx - 3.5},${yt} L${cx - 3.5},${yh} L${cx - 7.5},${yh} L${cx},${yp} L${cx + 7.5},${yh} L${cx + 3.5},${yh} L${cx + 3.5},${yt} Z`)
        .attr('fill', color);
    };
    arrow(96.6, yMacd, -31.7, -26.8, '#0b6b0b');
    arrow(104.5, yCci, 280, 154, '#f00');
    arrow(60.4, yAdx, 10.1, 19.8, '#f00');
    arrow(62.4, ySto, 81.7, 58.2, '#f00');
    arrow(96.8, yRat, 0.24577, 0.24317, '#6a6a6a');

    // ---- vertical event markers
    svg.append('line').attr('x1', x(65) - 2).attr('x2', x(65) - 2).attr('y1', 31).attr('y2', 733.3)
      .attr('stroke', '#e8101a').attr('stroke-width', 2.6).attr('stroke-dasharray', '7,4');
    svg.append('line').attr('x1', x(89)).attr('x2', x(89)).attr('y1', 31).attr('y2', 733.3)
      .attr('stroke', '#1f7a1f').attr('stroke-width', 1).attr('stroke-dasharray', '4,3');
  };

  return (
    <svg ref={ref} width={620} height={750} style={{ position: 'absolute', left: 0, top: 0, background: '#fff' }} />
  );
};

export default App;
